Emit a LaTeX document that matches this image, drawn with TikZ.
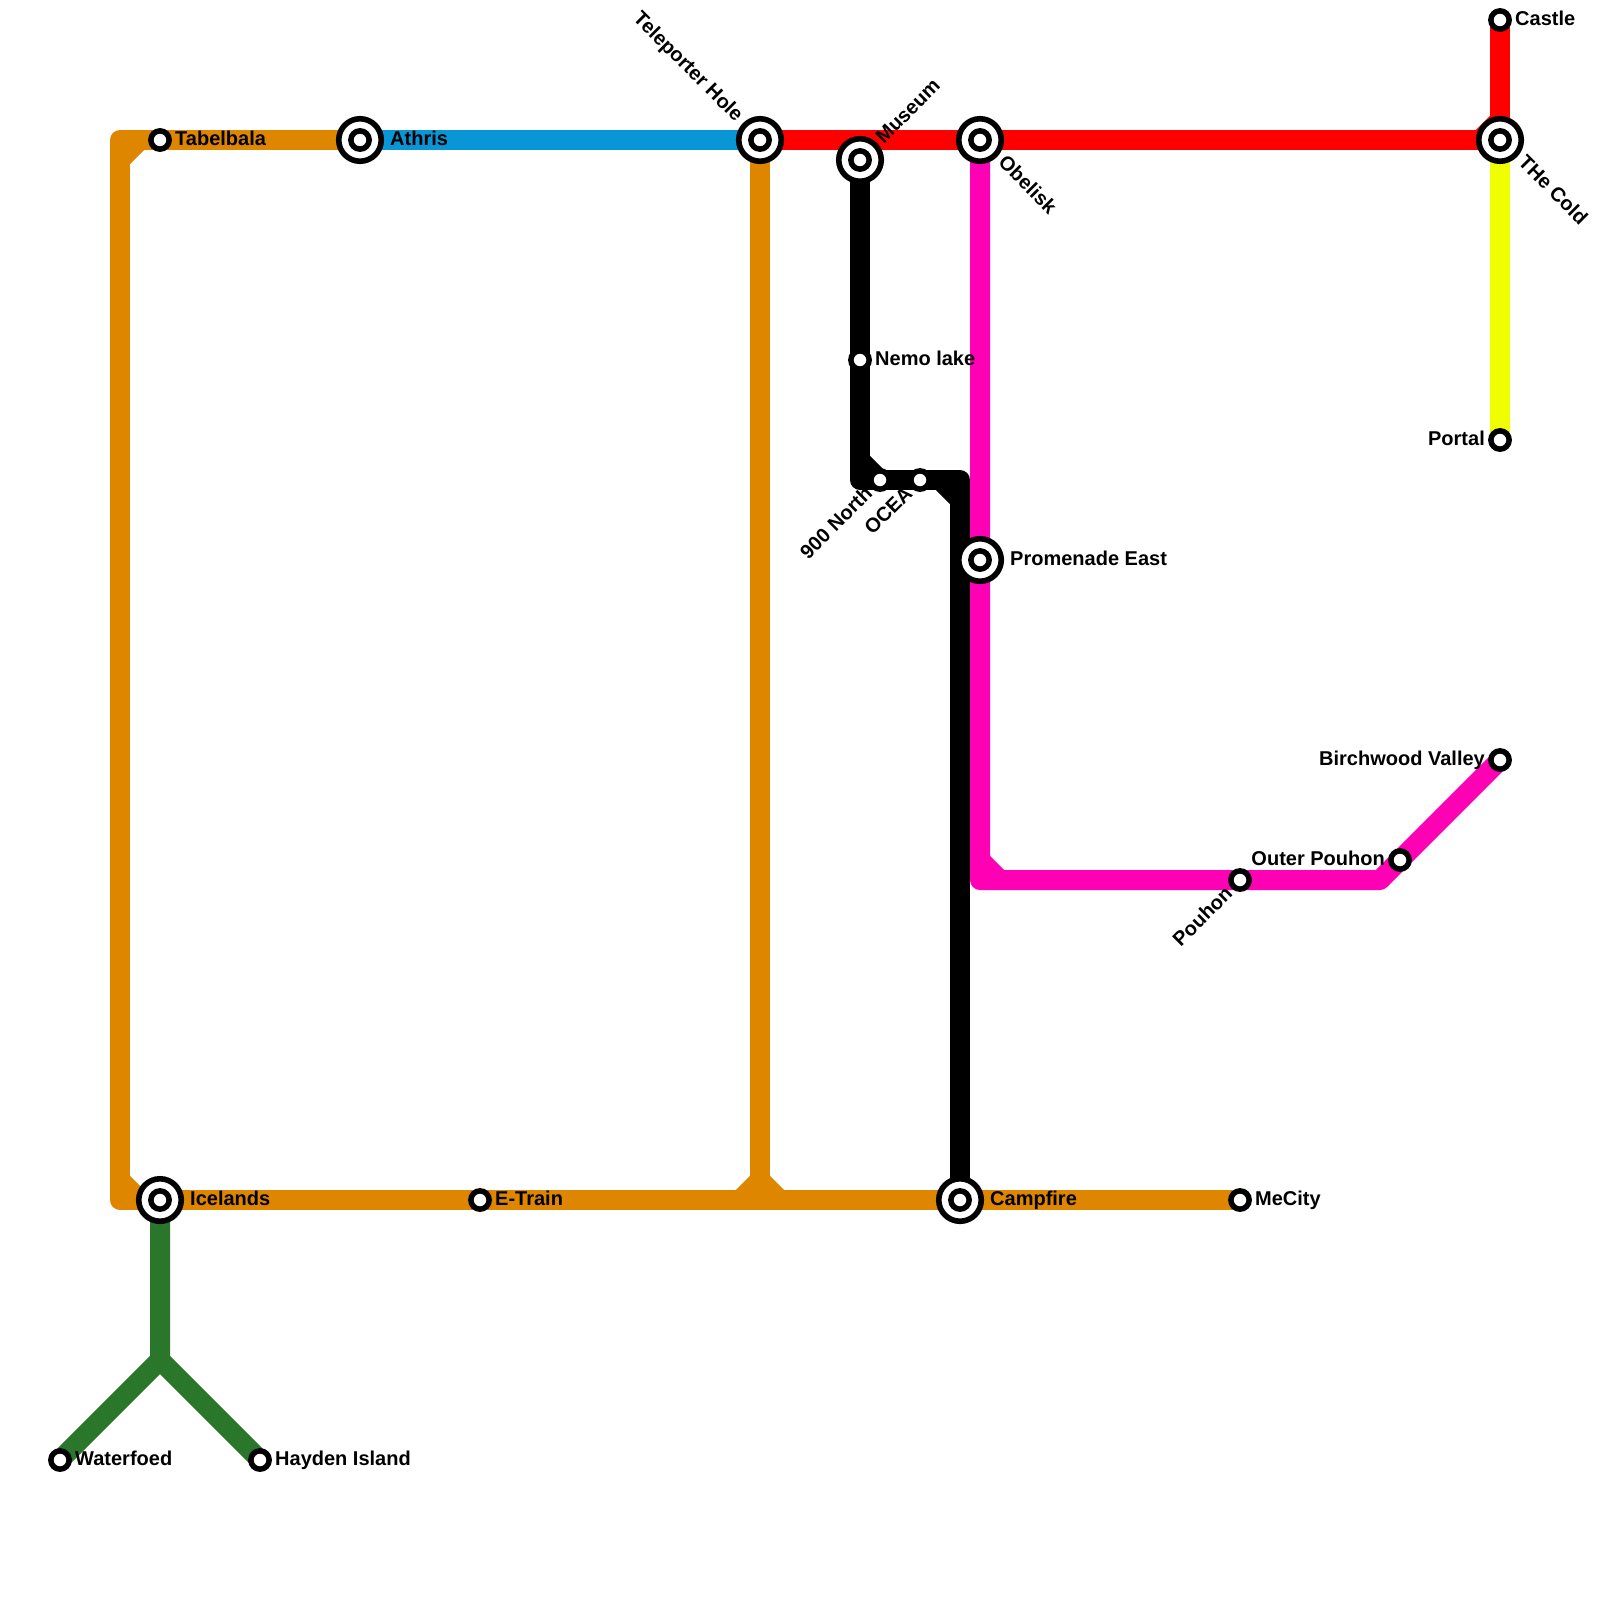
\documentclass[tikz,border=0pt]{standalone}
\usepackage{fontspec}
\setmainfont{Liberation Sans}
\usetikzlibrary{positioning}
\definecolor{lineorange}{HTML}{DF8600}
\definecolor{lineblue}{HTML}{0896D7}
\definecolor{linered}{HTML}{FF0000}
\definecolor{linepink}{HTML}{FF00B4}
\definecolor{lineyellow}{HTML}{F0FF00}
\definecolor{linegreen}{HTML}{2A772C}
\tikzset{
  metro/.style={line width=20pt,line join=round},
  stop/.style={circle,draw=black,fill=white,line width=5.5pt,minimum size=18.3pt,inner sep=0pt},
  hub/.style={circle,draw=black,fill=white,line width=5.6pt,minimum size=42.5pt,inner sep=0pt},
  tag/.style={font=\fontsize{20}{24}\selectfont\bfseries,inner sep=0pt,text height=14.5pt,text depth=4pt}
}
\begin{document}
\begin{tikzpicture}[x=1pt,y=-1pt]
    \useasboundingbox (0,0) rectangle (1600,1600);
    %%%%% THE PLACES
    \coordinate (castle) at (1500,20);
    \coordinate (cold) at (1500,140);
    \coordinate (portal) at (1500,440);
    \coordinate (birchwood) at (1500,760);
    \coordinate (outerpouhon) at (1400,860);
    \coordinate (pouhon) at (1240,880);
    \coordinate (promenade) at (980,560);
    \coordinate (obelisk) at (980,140);
    \coordinate (museum) at (860,160);
    \coordinate (teleporter) at (760,140);
    \coordinate (athris) at (360,140);
    \coordinate (tabelbala) at (160,140);
    \coordinate (icelands) at (160,1200);
    \coordinate (etrain) at (480,1200);
    \coordinate (campfire) at (960,1200);
    \coordinate (mecity) at (1240,1200);
    \coordinate (waterfoed) at (60,1460);
    \coordinate (hayden) at (260,1460);
    \coordinate (nemo) at (860,360);
    \coordinate (north) at (880,480);
    \coordinate (ocea) at (920,480);
    % Bends of the lines
    \coordinate (topleft) at (120,140);
    \coordinate (bottomleft) at (120,1200);
    \coordinate (tee) at (760,1200);
    \coordinate (blackbendA) at (860,480);
    \coordinate (blackbendB) at (960,480);
    \coordinate (pinkbendA) at (980,880);
    \coordinate (pinkbendB) at (1380,880);
    \coordinate (fork) at (160,1360);
    %%%%% THE LINES
    \begin{scope}[metro]
      \draw[lineorange] (mecity) -- (bottomleft) -- (topleft) -- (athris);
      \draw[lineorange] (teleporter) -- (tee);
      \draw[lineorange] (120,160) -- (140,140);
      \draw[lineorange] (120,1180) -- (140,1200);
      \draw[lineorange] (740,1200) -- (760,1180) -- (780,1200);
      \draw[lineblue] (athris) -- (teleporter);
      \draw[linered] (teleporter) -- (cold);
      \draw[linered] (castle) -- (cold);
      \draw[linered] (1480,140) -- (1500,120);
      \draw[lineyellow] (cold) -- (portal);
      \draw[black] (museum) -- (blackbendA) -- (blackbendB) -- (campfire);
      \draw[black] (860,460) -- (880,480);
      \draw[black] (940,480) -- (960,500);
      \draw[linepink] (obelisk) -- (pinkbendA) -- (pinkbendB) -- (birchwood);
      \draw[linepink] (980,860) -- (1000,880);
      \draw[linegreen] (icelands) -- (fork) -- (waterfoed);
      \draw[linegreen] (fork) -- (hayden);
    \end{scope}
    %%%%% THE STOPS
    \foreach \place in {teleporter,athris,obelisk,museum,cold,promenade,icelands,campfire}
      \node[hub] at (\place) {};
    \foreach \place in {castle,cold,portal,birchwood,outerpouhon,pouhon,promenade,obelisk,museum,
        teleporter,athris,tabelbala,icelands,etrain,campfire,mecity,waterfoed,hayden,nemo,north,ocea}
      \node[stop] (\place stop) at (\place) {};
    %%%%% THE NAMES
    \node[tag,right=15pt of castlestop.center] {Castle};
    \node[tag,right=15pt of tabelbalastop.center] {Tabelbala};
    \node[tag,right=30pt of athrisstop.center] {Athris};
    \node[tag,right=15pt of nemostop.center] {Nemo lake};
    \node[tag,right=30pt of promenadestop.center] {Promenade East};
    \node[tag,right=30pt of icelandsstop.center] {Icelands};
    \node[tag,right=15pt of etrainstop.center] {E-Train};
    \node[tag,right=30pt of campfirestop.center] {Campfire};
    \node[tag,right=15pt of mecitystop.center] {MeCity};
    \node[tag,right=15pt of waterfoedstop.center] {Waterfoed};
    \node[tag,right=15pt of haydenstop.center] {Hayden Island};
    \node[tag,left=15pt of portalstop.center] {Portal};
    \node[tag,left=15pt of birchwoodstop.center] {Birchwood Valley};
    \node[tag,left=15pt of outerpouhonstop.center] {Outer Pouhon};
    % Slanted names
    \node[tag,rotate=-45,anchor=east] at ([shift={(-21,-21)}]teleporter) {Teleporter Hole};
    \node[tag,rotate=45,anchor=west] at ([shift={(20,-19)}]museum) {Museum};
    \node[tag,rotate=-45,anchor=west] at ([shift={(21,20)}]obelisk) {Obelisk};
    \node[tag,rotate=-45,anchor=west] at ([shift={(21,20)}]cold) {THe Cold};
    \node[tag,rotate=45,anchor=east] at ([shift={(-10,11)}]north) {900 North};
    \node[tag,rotate=45,anchor=east] at ([shift={(-10,11)}]ocea) {OCEA};
    \node[tag,rotate=45,anchor=east] at ([shift={(-10,11)}]pouhon) {Pouhon};
\end{tikzpicture}
\end{document}
